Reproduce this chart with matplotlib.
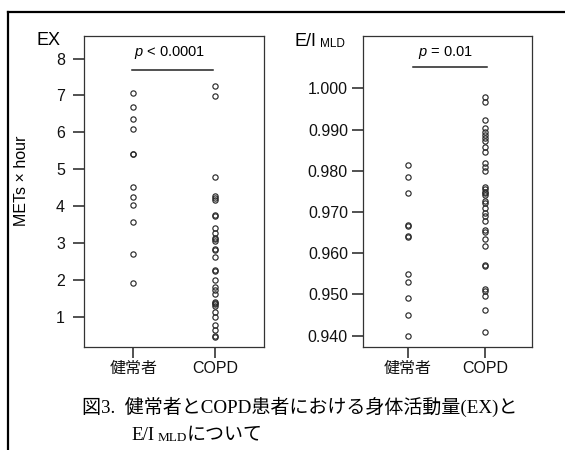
import matplotlib
matplotlib.use("Agg")
import matplotlib.pyplot as plt

plt.rcParams['font.family'] = ['Liberation Sans', 'Noto Sans CJK JP']
plt.rcParams['mathtext.fontset'] = 'custom'
plt.rcParams['mathtext.it'] = 'Liberation Sans:italic'
plt.rcParams['mathtext.rm'] = 'Liberation Sans'

# data
groups = ['健常者', 'COPD']
ex_healthy = [7.06, 6.69, 6.37, 6.08, 5.42, 5.40, 4.52, 4.25, 4.04, 3.57, 2.69, 1.92]
ex_copd = [7.25, 6.98, 4.79, 4.28, 4.22, 4.16, 3.77, 3.73, 3.41, 3.26, 3.14, 3.10,
           3.06, 2.85, 2.80, 2.61, 2.28, 2.25, 1.99, 1.80, 1.72, 1.62, 1.41, 1.38,
           1.35, 1.30, 1.14, 1.00, 0.78, 0.64, 0.48, 0.44]
ei_healthy = [0.9814, 0.9786, 0.9745, 0.9669, 0.9667, 0.9641, 0.9639, 0.9549,
              0.9530, 0.9490, 0.9449, 0.9398]
ei_copd = [0.9978, 0.9968, 0.9923, 0.9903, 0.9895, 0.9887, 0.9879, 0.9871, 0.9858,
           0.9846, 0.9818, 0.9810, 0.9800, 0.9761, 0.9756, 0.9749, 0.9745, 0.9741,
           0.9727, 0.9721, 0.9709, 0.9697, 0.9689, 0.9679, 0.9656, 0.9652, 0.9634,
           0.9618, 0.9571, 0.9569, 0.9513, 0.9507, 0.9495, 0.9461, 0.9408]
ex_ticks = [1, 2, 3, 4, 5, 6, 7, 8]
ei_ticks = [0.940, 0.950, 0.960, 0.970, 0.980, 0.990, 1.000]
p_ex = '$p$ < 0.0001'
p_ei = '$p$ = 0.01'

W, H = 565, 450
fig = plt.figure(figsize=(5.65, 4.5), dpi=100)

# background axes for the page frame and caption
bg = fig.add_axes([0, 0, 1, 1])
bg.set_xlim(0, W)
bg.set_ylim(H, 0)
bg.axis('off')
bg.plot([8, W], [12, 12], color='black', lw=1.6, clip_on=False)
bg.plot([8, 8], [12, H], color='black', lw=1.6, clip_on=False)

ax1 = fig.add_axes([84 / W, (H - 346.7) / H, 180.3 / W, 310.7 / H])
ax2 = fig.add_axes([362.7 / W, (H - 346.7) / H, 169 / W, 310.7 / H])

mk = dict(marker='o', ls='none', ms=3.8, mfc='none', mec='#2a2a2a', mew=0.85)


def style(ax, pad):
    for s in ax.spines.values():
        s.set_color('#333333')
        s.set_linewidth(0.9)
    ax.tick_params(axis='both', length=7.6, width=1.1, color='#222222',
                   labelsize=11.5, labelcolor='#111111')
    ax.tick_params(axis='y', pad=pad)
    ax.tick_params(axis='x', pad=2.5)
    ax.set_xticks([1, 2])
    ax.set_xticklabels(groups)


# EX panel
ax1.plot([1] * len(ex_healthy), ex_healthy, **mk)
ax1.plot([2] * len(ex_copd), ex_copd, **mk)
ax1.set_xlim(0.4, 2.6)
ax1.set_ylim(0.19, 8.61)
ax1.set_yticks(ex_ticks)
style(ax1, 6)
ax1.plot([0.98, 1.97], [7.70, 7.70], color='#222222', lw=1.1)
ax1.text(1.45, 8.15, p_ex, ha='center', va='center', fontsize=10.5)
ax1.set_ylabel('METs × hour', fontsize=11.5)
ax1.yaxis.set_label_coords(-0.305, 0.533)

# E/I MLD panel
ax2.plot([1] * len(ei_healthy), ei_healthy, **mk)
ax2.plot([2] * len(ei_copd), ei_copd, **mk)
ax2.set_xlim(0.42, 2.6)
ax2.set_ylim(0.9373, 1.0127)
ax2.set_yticks(ei_ticks)
ax2.set_yticklabels([f'{t:.3f}' for t in ei_ticks])
style(ax2, 3)
ax2.plot([1.07, 2.02], [1.0051, 1.0051], color='#222222', lw=1.1)
ax2.text(1.49, 1.0086, p_ei, ha='center', va='center', fontsize=10.5)

# panel titles
bg.text(36.7, 45, 'EX', fontsize=13, va='baseline')
t = bg.text(295, 46, 'E/I', fontsize=13, va='baseline')
bg.annotate('MLD', xy=(1, 0), xycoords=t, xytext=(2.5, 0), textcoords='offset points',
            fontsize=8.5, va='bottom')

# caption
serif = ['Liberation Serif', 'Noto Sans CJK JP']
bg.text(82, 413, '図3.  健常者とCOPD患者における身体活動量(EX)と', family=serif,
        fontsize=13.7, va='baseline')
c1 = bg.text(131, 440, 'E/I', family=serif, fontsize=13.7, va='baseline')
c2 = bg.annotate('MLD', xy=(1, 0), xycoords=c1, xytext=(2.5, 0), textcoords='offset points',
                 family=serif, fontsize=9.5, va='bottom')
bg.annotate('について', xy=(1, 0), xycoords=c2, family=serif, fontsize=13.7, va='bottom')

plt.savefig('out.png', dpi=100)
